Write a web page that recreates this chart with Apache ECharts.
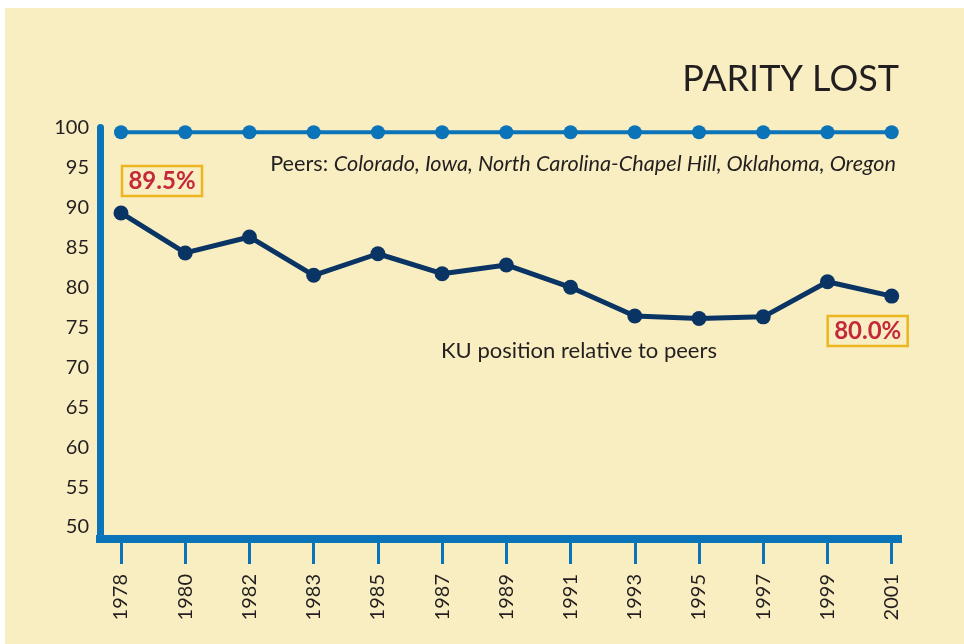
<!DOCTYPE html>
<html>
<head>
<meta charset="utf-8">
<script src="https://cdn.jsdelivr.net/npm/echarts@6/dist/echarts.min.js"></script>
<style>
html,body{margin:0;padding:0;background:#ffffff;}
#chart{width:964px;height:644px;}
</style>
</head>
<body>
<div id="chart"></div>
<script>
// Data
const years = ['1978','1980','1982','1983','1985','1987','1989','1991','1993','1995','1997','1999','2001'];
const kuValues = [89.3, 84.3, 86.3, 81.5, 84.2, 81.7, 82.8, 80.0, 76.4, 76.1, 76.3, 80.7, 78.9];
const peerValues = [99.4, 99.4, 99.4, 99.4, 99.4, 99.4, 99.4, 99.4, 99.4, 99.4, 99.4, 99.4, 99.4];
const yTickLabels = [50, 55, 60, 65, 70, 75, 80, 85, 90, 95, 100];
const annotations = { 0: '89.5%', 12: '80.0%' };
const titleText = 'PARITY LOST';
const peersLabel = 'Peers: ';
const peersList = 'Colorado, Iowa, North Carolina-Chapel Hill, Oklahoma, Oregon';
const kuLabel = 'KU position relative to peers';

const BLUE = '#0B73B7';
const NAVY = '#0A3464';
const CREAM = '#F9EEC1';
const TEXT = '#231F20';
const RED = '#C4283A';
const GOLD = '#EDB51E';
const FONT = 'Lato';

const annoOffsets = { 0: [41, -32], 12: [-24, 35] };

const kuData = kuValues.map((v, i) => {
  const item = { value: [i, v] };
  if (annotations[i] !== undefined) {
    item.label = {
      show: true,
      position: 'inside',
      offset: annoOffsets[i],
      formatter: annotations[i],
      color: RED,
      fontFamily: FONT,
      fontWeight: 'bold',
      fontSize: 24,
      borderColor: GOLD,
      borderWidth: 2.5,
      width: 80,
      height: 30,
      lineHeight: 30,
      align: 'center',
      verticalAlign: 'middle',
      padding: 0
    };
  }
  return item;
});
const peerData = peerValues.map((v, i) => [i, v]);

const chart = echarts.init(document.getElementById('chart'));
chart.setOption({
  animation: false,
  backgroundColor: '#ffffff',
  graphic: [{
    type: 'rect', z: -10, silent: true,
    shape: { x: 5, y: 8, width: 964, height: 644 },
    style: { fill: CREAM }
  }],
  title: [
    { text: titleText, right: 60, top: 56,
      textStyle: { fontFamily: FONT, fontSize: 36, fontWeight: 'normal', color: TEXT } },
    { text: '{n|' + peersLabel + '}{i|' + peersList + '}', right: 63, top: 148,
      textStyle: { fontWeight: 'normal', rich: {
        n: { fontFamily: FONT, fontSize: 21.7, fontWeight: 'normal', color: TEXT },
        i: { fontFamily: FONT, fontSize: 21.7, fontWeight: 'normal', fontStyle: 'italic', color: TEXT }
      } } },
    { text: kuLabel, left: 574, textAlign: 'center', top: 335,
      textStyle: { fontFamily: FONT, fontSize: 22, fontWeight: 'normal', color: TEXT } }
  ],
  grid: { left: 100, right: 66, top: 127.5, bottom: 105, containLabel: false },
  xAxis: {
    type: 'value', min: -0.327, max: 12.098,
    splitLine: { show: false },
    axisLine: { show: true, onZero: false, lineStyle: { color: BLUE, width: 8, cap: 'square' } },
    axisTick: { show: true, customValues: years.map((y, i) => i), length: 25,
      lineStyle: { color: BLUE, width: 3 } },
    axisLabel: { show: true, customValues: years.map((y, i) => i), rotate: 90, margin: 35,
      formatter: v => years[Math.round(v)], color: TEXT, fontFamily: FONT, fontSize: 20 }
  },
  yAxis: {
    type: 'value', min: 48.5, max: 100,
    splitLine: { show: false },
    axisLine: { show: true, onZero: false, lineStyle: { color: BLUE, width: 7 } },
    axisTick: { show: false },
    axisLabel: { show: true, customValues: yTickLabels, margin: 11,
      color: TEXT, fontFamily: FONT, fontSize: 20 }
  },
  series: [
    { type: 'line', data: peerData, symbol: 'circle', symbolSize: 14,
      lineStyle: { color: BLUE, width: 4 }, itemStyle: { color: BLUE }, z: 3 },
    { type: 'line', data: kuData, symbol: 'circle', symbolSize: 15,
      lineStyle: { color: NAVY, width: 5 }, itemStyle: { color: NAVY }, z: 4 }
  ]
});
</script>
</body>
</html>
